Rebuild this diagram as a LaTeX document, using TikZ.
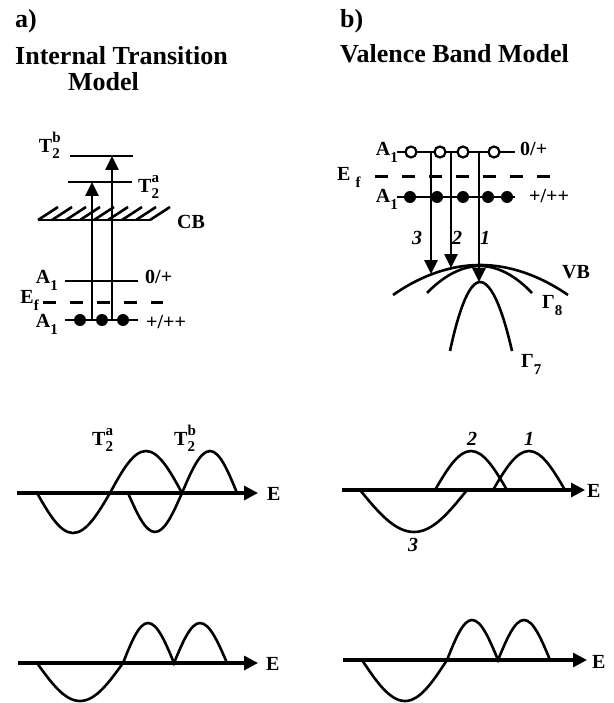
\documentclass[tikz,border=0pt]{standalone}
\usepackage{fontspec}
\setmainfont{Liberation Serif}
\usetikzlibrary{positioning, arrows.meta}
\tikzset{
  lvl/.style={line width=2.6pt},
  fermi/.style={line width=3pt, dash pattern=on 13pt off 14pt},
  hatch/.style={line width=2.6pt},
  band/.style={line width=2.6pt},
  wave/.style={line width=2.6pt},
  arr/.style={-{Triangle[length=14pt,width=13pt]}, line width=2.6pt},
  axis/.style={-{Triangle[length=14pt,width=14pt]}, line width=3.2pt},
  fdot/.style={circle, fill, inner sep=0pt, minimum size=12pt},
  odot/.style={circle, draw, fill=white, line width=2.2pt,
               inner sep=0pt, minimum size=11pt},
  head/.style={font=\fontsize{26}{30}\selectfont\bfseries,
               inner sep=0pt, anchor=base west},
  lbl/.style={font=\fontsize{20}{22}\selectfont\bfseries, inner sep=0pt},
  num/.style={font=\fontsize{20}{22}\selectfont\bfseries\itshape, inner sep=0pt}
}
\newcommand{\lev}[2]{#1\raisebox{-7pt}{\fontsize{15}{15}\selectfont #2}}
\newcommand{\tsym}[2]{T\rlap{\raisebox{10pt}{\fontsize{15}{15}\selectfont #1}}%
  \raisebox{-6pt}{\fontsize{15}{15}\selectfont #2}}

\begin{document}
\begin{tikzpicture}[x=1pt, y=-1pt]
  \useasboundingbox (0,0) rectangle (613,703);

  % ----- Headings -----
  \node[head] (hda) at (15,28) {a)};
  \node[head] (ttla) at (15,65) {Internal Transition};
  \node[head] (ttlb) at (68,91) {Model};
  \node[head] (hdb) at (340,28) {b)};
  \node[head] (ttlc) at (340,63) {Valence Band Model};

  % ----- a) levels -----
  \coordinate (tbL) at (70,156);  \coordinate (tbR) at (133,156);
  \coordinate (taL) at (68,182);  \coordinate (taR) at (132,182);
  \coordinate (cbL) at (38,220);  \coordinate (cbR) at (150,220);
  \coordinate (auL) at (65,281);  \coordinate (auR) at (138,281);
  \coordinate (efL) at (43,302);  \coordinate (efR) at (163,302);
  \coordinate (alL) at (65,320);  \coordinate (alR) at (138,320);

  \draw[lvl] (tbL) -- (tbR);
  \draw[lvl] (taL) -- (taR);
  \draw[lvl] (cbL) -- (cbR);
  \draw[hatch] (38,220) -- ++(20,-13) (52,220) -- ++(20,-13)
    (66,220) -- ++(20,-13) (80,220) -- ++(20,-13) (94,220) -- ++(20,-13)
    (108,220) -- ++(20,-13) (122,220) -- ++(20,-13) (136,220) -- ++(20,-13)
    (150,220) -- ++(20,-13);
  \draw[lvl] (auL) -- (auR);
  \draw[fermi] (efL) -- (efR);
  \draw[lvl] (alL) -- (alR);

  \node[fdot] (fa1) at (80,320) {};
  \node[fdot] (fa2) at (102,320) {};
  \node[fdot] (fa3) at (123,320) {};

  % ----- a) transitions -----
  \coordinate (sa) at (92,320);
  \coordinate (sb) at (112,320);
  \draw[arr] (sa) -- (sa |- taL);
  \draw[arr] (sb) -- (sb |- tbL);

  % ----- a) labels -----
  \node[lbl, anchor=base east] (ltb) at (60,153) {\tsym{b}{2}};
  \node[lbl, anchor=base west] (lta) at (138,193) {\tsym{a}{2}};
  \node[lbl, anchor=base west] (lcb) at (177,229) {CB};
  \node[lbl, anchor=base east] (lau) at (58,283) {\lev{A}{1}};
  \node[lbl, anchor=base west] (lzp) at (145,283) {0/+};
  \node[lbl, anchor=base east] (lef) at (39,303) {\lev{E}{f}};
  \node[lbl, anchor=base east] (lal) at (58,327) {\lev{A}{1}};
  \node[lbl, anchor=base west] (lpp) at (146,328) {+/++};

  % ----- b) levels -----
  \coordinate (buL) at (397,152); \coordinate (buR) at (515,152);
  \coordinate (bfL) at (375,177); \coordinate (bfR) at (550,177);
  \coordinate (blL) at (397,197); \coordinate (blR) at (515,197);

  \draw[lvl] (buL) -- (buR);
  \draw[fermi] (bfL) -- (bfR);
  \draw[lvl] (blL) -- (blR);

  % ----- b) valence bands -----
  \draw[band] (393,295) parabola bend (480,265) (568,295);
  \draw[band] (427,293) parabola bend (480,266) (532,293);
  \draw[band] (450,351) parabola bend (480,282) (512,351);

  % ----- b) transitions -----
  \coordinate (sc) at (431,152);
  \coordinate (sd) at (451,152);
  \coordinate (se) at (479,152);
  \coordinate (vbc) at (431,274);
  \coordinate (vbd) at (451,268);
  \coordinate (vbe) at (479,282);
  \draw[arr] (sc) -- (vbc);
  \draw[arr] (sd) -- (vbd);
  \draw[arr] (se) -- (vbe);

  \node[odot] (ob1) at (411,152) {};
  \node[odot] (ob2) at (440,152) {};
  \node[odot] (ob3) at (463,152) {};
  \node[odot] (ob4) at (494,152) {};
  \node[fdot] (fb1) at (410,197) {};
  \node[fdot] (fb2) at (437,197) {};
  \node[fdot] (fb3) at (463,197) {};
  \node[fdot] (fb4) at (488,197) {};
  \node[fdot] (fb5) at (507,197) {};

  % ----- b) labels -----
  \node[lbl, anchor=base east] (lbu) at (398,156) {\lev{A}{1}};
  \node[lbl, anchor=base west] (lbz) at (520,156) {0/+};
  \node[lbl, anchor=base west] (lbf) at (337,181) {E\hspace{5pt}\raisebox{-7pt}{\fontsize{15}{15}\selectfont f}};
  \node[lbl, anchor=base east] (lbl1) at (398,203) {\lev{A}{1}};
  \node[lbl, anchor=base west] (lbp) at (529,203) {+/++};
  \node[num] (n3) at (417,238) {3};
  \node[num] (n2) at (457,238) {2};
  \node[num] (n1) at (485,238) {1};
  \node[lbl, anchor=base west] (lvb) at (562,278) {VB};
  \node[lbl, anchor=base west] (lg8) at (542,308) {\lev{Γ}{8}};
  \node[lbl, anchor=base west] (lg7) at (521,367) {\lev{Γ}{7}};

  % ----- a) line shapes -----
  \draw[wave] (37,493) sin (73,533) cos (110,493) sin (146,451) cos (182,493);
  \draw[wave] (128,493) sin (155,532) cos (182,493) sin (210,451) cos (237,493);
  \coordinate (axa) at (17,493); \coordinate (axaE) at (258,493);
  \draw[axis] (axa) -- (axaE);
  \node[lbl, anchor=base west] (ea) at (267,500) {E};
  \node[lbl, anchor=base west] (wta) at (92,445) {\tsym{a}{2}};
  \node[lbl, anchor=base west] (wtb) at (174,445) {\tsym{b}{2}};

  \draw[wave] (37,663) sin (80,701) cos (123,663) sin (148,623) cos (174,663)
    sin (200,623) cos (227,663);
  \coordinate (axc) at (18,663); \coordinate (axcE) at (258,663);
  \draw[axis] (axc) -- (axcE);
  \node[lbl, anchor=base west] (ec) at (266,670) {E};

  % ----- b) line shapes -----
  \draw[wave] (360,490) sin (414,532) cos (467,490);
  \draw[wave] (435,490) sin (471,451) cos (507,490);
  \draw[wave] (493,490) sin (529,451) cos (565,490);
  \coordinate (axb) at (342,490); \coordinate (axbE) at (585,490);
  \draw[axis] (axb) -- (axbE);
  \node[lbl, anchor=base west] (eb) at (587,497) {E};
  \node[num] (w2) at (472,439) {2};
  \node[num] (w1) at (529,439) {1};
  \node[num] (w3) at (413,545) {3};

  \draw[wave] (362,660) sin (405,701) cos (447,660) sin (472,620) cos (498,660)
    sin (524,620) cos (550,660);
  \coordinate (axd) at (343,660); \coordinate (axdE) at (587,660);
  \draw[axis] (axd) -- (axdE);
  \node[lbl, anchor=base west] (ed) at (592,668) {E};

\end{tikzpicture}
\end{document}
